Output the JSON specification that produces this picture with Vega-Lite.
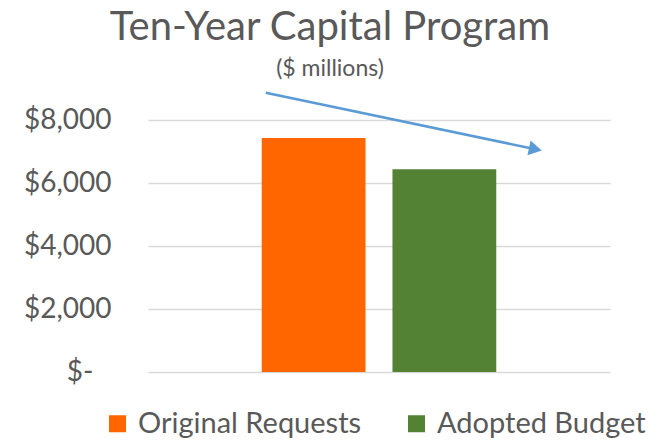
{
  "$schema": "https://vega.github.io/schema/vega-lite/v6.json",
  "width": 462,
  "height": 252,
  "autosize": "none",
  "padding": {"left": 148, "top": 120, "right": 56, "bottom": 69},
  "background": "white",
  "config": {"view": {"stroke": null}, "font": "Lato"},
  "title": {
    "text": "Ten-Year Capital Program",
    "subtitle": "($ millions)",
    "anchor": "middle",
    "frame": "group",
    "dx": -49,
    "font": "Lato",
    "fontSize": 40,
    "fontWeight": "normal",
    "color": "#595959",
    "subtitleFont": "Lato",
    "subtitleFontSize": 23,
    "subtitleColor": "#595959",
    "subtitlePadding": 10,
    "offset": 10
  },
  "datasets": {
    "bars": [
      {"series": "Original Requests", "value": 7430},
      {"series": "Adopted Budget", "value": 6440}
    ],
    "arrow": [
      {"x1": 0.2548, "y1": 8867, "x2": 0.8385, "y2": 7073}
    ]
  },
  "layer": [
    {
      "data": {"name": "bars"},
      "mark": {"type": "bar"},
      "encoding": {
        "x": {
          "field": "series",
          "type": "nominal",
          "sort": null,
          "axis": null,
          "scale": {"paddingInner": 0.206, "paddingOuter": 0.87}
        },
        "y": {
          "field": "value",
          "type": "quantitative",
          "scale": {"domain": [0, 8000], "nice": false},
          "axis": {
            "values": [0, 2000, 4000, 6000, 8000],
            "labelExpr": "datum.value == 0 ? '$-' : '$' + format(datum.value, ',')",
            "labelFont": "Lato",
            "labelFontSize": 28,
            "labelColor": "#595959",
            "labelPadding": {"condition": {"test": "datum.value == 0", "value": 55}, "value": 37},
            "domain": false,
            "ticks": false,
            "title": null,
            "grid": true,
            "gridColor": "#d9d9d9",
            "gridWidth": 1.5
          }
        },
        "color": {
          "field": "series",
          "type": "nominal",
          "sort": null,
          "scale": {"domain": ["Original Requests", "Adopted Budget"], "range": ["#ff6600", "#548235"]},
          "legend": {
            "orient": "none",
            "direction": "horizontal",
            "legendX": -45,
            "legendY": 289,
            "title": null,
            "symbolType": "square",
            "symbolSize": 289,
            "symbolStrokeWidth": 0,
            "labelFont": "Lato",
            "labelFontSize": 29,
            "labelColor": "#595959",
            "labelOffset": 6,
            "columnPadding": 40,
            "labelLimit": 400,
            "padding": 0
          }
        }
      }
    },
    {
      "data": {"name": "arrow"},
      "mark": {"type": "rule", "color": "#5b9bd5", "strokeWidth": 2.5},
      "encoding": {
        "x": {"field": "x1", "type": "quantitative", "scale": {"domain": [0, 1], "nice": false}, "axis": null},
        "x2": {"field": "x2"},
        "y": {"field": "y1", "type": "quantitative", "scale": {"domain": [0, 8000], "nice": false}},
        "y2": {"field": "y2"}
      }
    },
    {
      "data": {"name": "arrow"},
      "mark": {"type": "point", "shape": "triangle-right", "filled": true, "size": 225, "angle": 12, "color": "#5b9bd5", "opacity": 1},
      "encoding": {
        "x": {"field": "x2", "type": "quantitative", "scale": {"domain": [0, 1], "nice": false}, "axis": null},
        "y": {"field": "y2", "type": "quantitative", "scale": {"domain": [0, 8000], "nice": false}}
      }
    }
  ],
  "resolve": {"scale": {"x": "independent"}}
}
